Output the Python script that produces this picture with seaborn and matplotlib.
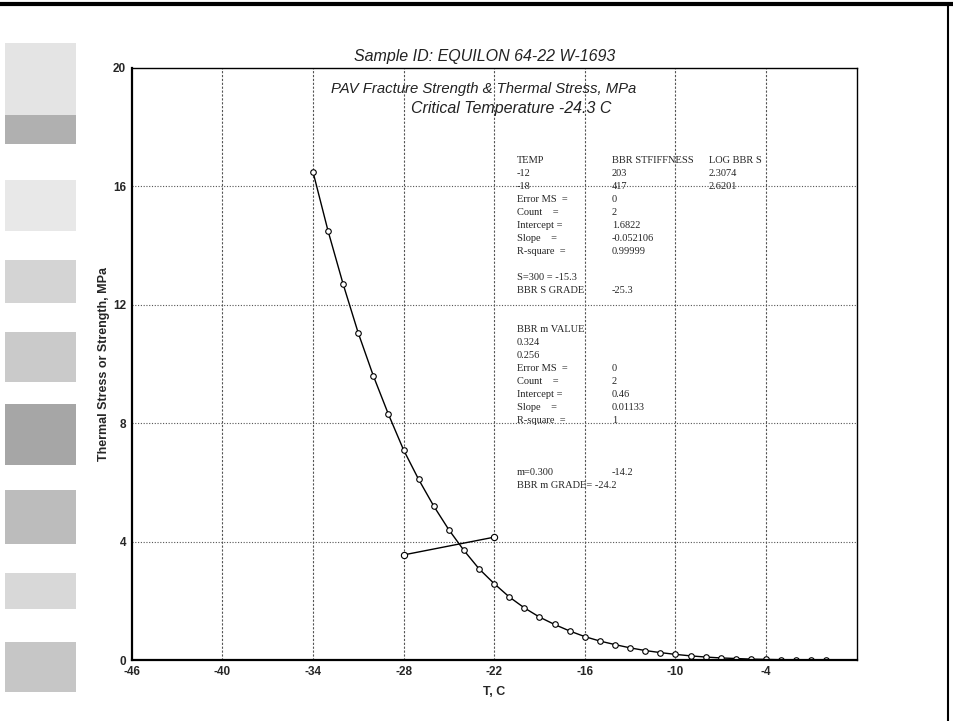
import matplotlib
matplotlib.use('Agg')
import matplotlib.pyplot as plt
from matplotlib.patches import Rectangle
from matplotlib.lines import Line2D
import seaborn as sns
import pandas as pd

# thermal stress curve
temps = [-34, -33, -32, -31, -30, -29, -28, -27, -26, -25, -24, -23, -22, -21, -20,
         -19, -18, -17, -16, -15, -14, -13, -12, -11, -10, -9, -8, -7, -6, -5,
         -4, -3, -2, -1, 0]
stress = [16.5, 14.5, 12.7, 11.05, 9.6, 8.3, 7.1, 6.1, 5.2, 4.4, 3.7, 3.08, 2.58, 2.13, 1.76,
          1.45, 1.2, 0.98, 0.79, 0.64, 0.52, 0.41, 0.32, 0.25, 0.19, 0.14, 0.1, 0.07, 0.05, 0.03,
          0.02, 0.01, 0.01, 0.0, 0.0]

# PAV fracture strength line
strength_temps = [-28, -22]
strength = [3.55, 4.15]

x_ticks = [-46, -40, -34, -28, -22, -16, -10, -4]
y_ticks = [0, 4, 8, 12, 16, 20]

# regression summary printed on the chart
table_rows = [
    ('TEMP', 'BBR STFIFFNESS', 'LOG BBR S'),
    ('-12', '203', '2.3074'),
    ('-18', '417', '2.6201'),
    ('Error MS  =', '0', ''),
    ('Count    =', '2', ''),
    ('Intercept =', '1.6822', ''),
    ('Slope    =', '-0.052106', ''),
    ('R-square  =', '0.99999', ''),
    ('', '', ''),
    ('S=300 = -15.3', '', ''),
    ('BBR S GRADE', '-25.3', ''),
    ('', '', ''),
    ('', '', ''),
    ('BBR m VALUE', '', ''),
    ('0.324', '', ''),
    ('0.256', '', ''),
    ('Error MS  =', '0', ''),
    ('Count    =', '2', ''),
    ('Intercept =', '0.46', ''),
    ('Slope    =', '0.01133', ''),
    ('R-square  =', '1', ''),
    ('', '', ''),
    ('', '', ''),
    ('', '', ''),
    ('m=0.300', '-14.2', ''),
    ('BBR m GRADE= -24.2', '', ''),
]

sns.set_theme(style='white')
plt.rcParams['font.family'] = ['Liberation Sans', 'DejaVu Sans']

fig = plt.figure(figsize=(9.54, 7.21), dpi=100)
ax = fig.add_axes([0.138, 0.0846, 0.760, 0.8211])

# page frame and scanner marks down the left edge
fig.add_artist(Line2D([0, 1], [0.995, 0.995], color='black', linewidth=3))
fig.add_artist(Line2D([0.994, 0.994], [0, 0.995], color='black', linewidth=1.5))
for y0, h, shade in [(0.81, 0.13, '#e4e4e4'), (0.80, 0.04, '#b0b0b0'), (0.68, 0.07, '#e8e8e8'),
                     (0.58, 0.06, '#d4d4d4'), (0.47, 0.07, '#cacaca'), (0.355, 0.085, '#a6a6a6'),
                     (0.245, 0.075, '#bcbcbc'), (0.155, 0.05, '#d8d8d8'), (0.04, 0.07, '#c6c6c6')]:
    fig.add_artist(Rectangle((0.005, y0), 0.075, h, transform=fig.transFigure,
                             facecolor=shade, edgecolor='none', zorder=0))

curve = pd.DataFrame({'T': temps, 'stress': stress})
line = pd.DataFrame({'T': strength_temps, 'strength': strength})
sns.lineplot(data=curve, x='T', y='stress', ax=ax, color='black', linewidth=1.0,
             marker='o', markersize=4, markerfacecolor='white', markeredgecolor='black',
             markeredgewidth=0.8)
sns.lineplot(data=line, x='T', y='strength', ax=ax, color='black', linewidth=1.0,
             marker='o', markersize=4.5, markerfacecolor='white', markeredgecolor='black',
             markeredgewidth=0.8)

ax.set_xlim(-46, 2)
ax.set_ylim(0, 20)
ax.set_xticks(x_ticks)
ax.set_yticks(y_ticks)
ax.set_xticklabels([str(t) for t in x_ticks], fontsize=8.5, fontweight='bold')
ax.set_yticklabels([str(t) for t in y_ticks], fontsize=8.5, fontweight='bold')
ax.tick_params(length=0, pad=4)

for t in x_ticks[1:]:
    ax.axvline(t, color='#555555', linewidth=0.8, linestyle=(0, (2, 1.5)), zorder=0)
for v in y_ticks[1:-1]:
    ax.axhline(v, color='#555555', linewidth=0.8, linestyle=(0, (1, 1.5)), zorder=0)

for side in ['left', 'bottom']:
    ax.spines[side].set_linewidth(1.6)
    ax.spines[side].set_color('black')
for side in ['top', 'right']:
    ax.spines[side].set_linewidth(1.0)
    ax.spines[side].set_color('black')

ax.set_xlabel('T, C', fontsize=9, fontweight='bold', labelpad=6)
ax.set_ylabel('Thermal Stress or Strength, MPa', fontsize=9, fontweight='bold', labelpad=2)

ax.text(-22.6, 20.15, 'Sample ID: EQUILON 64-22 W-1693', ha='center', va='bottom',
        fontsize=11.5, style='italic', color='#222222')
ax.text(-32.8, 19.3, 'PAV Fracture Strength & Thermal Stress, MPa', ha='left', va='center',
        fontsize=10.7, style='italic', color='#222222')
ax.text(-27.5, 18.62, 'Critical Temperature -24.3 C', ha='left', va='center',
        fontsize=11.5, style='italic', color='#222222')

col_x = [-20.5, -14.2, -7.8]
row_top = 16.86
row_step = 0.439
for i, row in enumerate(table_rows):
    y = row_top - i * row_step
    for x, txt in zip(col_x, row):
        if txt:
            ax.text(x, y, txt, ha='left', va='center', fontsize=7.5,
                    family=['Liberation Serif', 'DejaVu Serif'])

fig.savefig('out.png', dpi=100)
